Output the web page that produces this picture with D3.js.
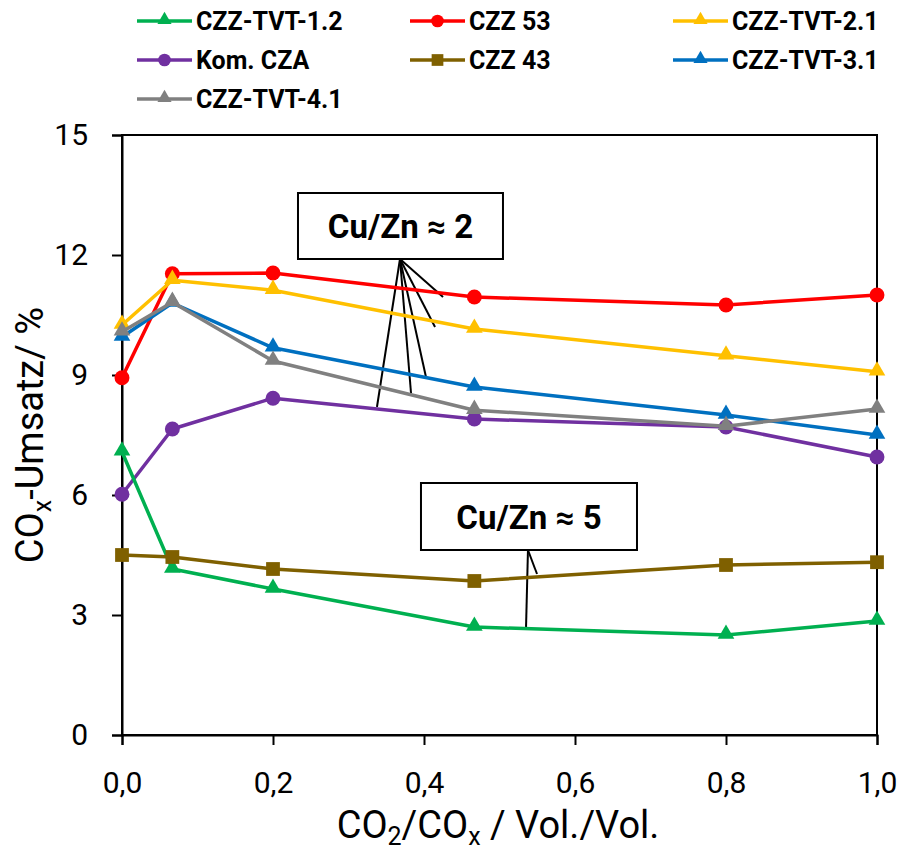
<!DOCTYPE html>
<html>
<head>
<meta charset="utf-8">
<script src="https://cdn.jsdelivr.net/npm/d3@7"></script>
<style>
  html, body { margin: 0; padding: 0; background: #fff; }
  svg { display: block; }
  text { font-family: "Roboto", "Liberation Sans", sans-serif; }
</style>
</head>
<body>
<svg id="chart" width="903" height="854"></svg>
<script>
// CO2 share of the COx feed (Vol./Vol.)
const xValues = [0, 0.0667, 0.2, 0.4667, 0.8, 1.0];

// COx conversion in % per catalyst
const czzTvt12 = [7.08, 4.15, 3.65, 2.70, 2.50, 2.85];
const czz53    = [8.93, 11.53, 11.55, 10.95, 10.75, 11.00];
const czzTvt21 = [10.25, 11.37, 11.12, 10.15, 9.48, 9.08];
const komCza   = [6.02, 7.65, 8.42, 7.90, 7.70, 6.95];
const czz43    = [4.50, 4.45, 4.15, 3.85, 4.25, 4.32];
const czzTvt31 = [9.95, 10.80, 9.68, 8.70, 8.00, 7.50];
const czzTvt41 = [10.08, 10.82, 9.35, 8.12, 7.72, 8.15];

const seriesNames   = ["CZZ-TVT-1.2", "CZZ 53", "CZZ-TVT-2.1", "Kom. CZA", "CZZ 43", "CZZ-TVT-3.1", "CZZ-TVT-4.1"];
const seriesValues  = [czzTvt12, czz53, czzTvt21, komCza, czz43, czzTvt31, czzTvt41];
const seriesColors  = ["#00B050", "#FF0000", "#FFC000", "#7030A0", "#7F6000", "#0070C0", "#808080"];
const seriesMarkers = ["triangle", "circle", "triangle", "circle", "square", "triangle", "triangle"];
// painting order (last on top)
const drawOrder = [3, 0, 1, 2, 4, 5, 6];

const xTicks = [0, 0.2, 0.4, 0.6, 0.8, 1.0];
const yTicks = [0, 3, 6, 9, 12, 15];

// callout boxes and their leader line targets, in data units
const calloutLabels = ["Cu/Zn ≈ 2", "Cu/Zn ≈ 5"];
const calloutBoxes = [
  { x0: 0.2331, x1: 0.5046, yTop: 13.55, yBottom: 11.90 },
  { x0: 0.3960, x1: 0.6821, yTop: 6.30,  yBottom: 4.625 }
];
const calloutAnchorsX = [0.3682, 0.5377];
const calloutTargets = [
  [[0.4252, 10.95], [0.4146, 10.20], [0.4026, 8.95], [0.3828, 8.55], [0.3377, 8.20]],
  [[0.5497, 4.025], [0.5351, 2.65]]
];

const svg = d3.select("#chart");
const margin = { left: 122, right: 26, top: 135, bottom: 119 };
const W = 903, H = 854;

const x = d3.scaleLinear().domain([0, 1]).range([margin.left, W - margin.right]);
const y = d3.scaleLinear().domain([0, 15]).range([H - margin.bottom, margin.top]);

// plot frame
svg.append("rect")
  .attr("x", x(0)).attr("y", y(15))
  .attr("width", x(1) - x(0)).attr("height", y(0) - y(15))
  .attr("fill", "none").attr("stroke", "#000").attr("stroke-width", 2);

// axes
const yAxis = d3.axisLeft(y).tickValues(yTicks).tickSize(10).tickPadding(24).tickFormat(d3.format("d"));
const xAxis = d3.axisBottom(x).tickValues(xTicks).tickSize(10).tickPadding(27)
  .tickFormat(d => d3.format(".1f")(d).replace(".", ","));

const gy = svg.append("g").attr("transform", `translate(${x(0)},0)`).call(yAxis);
const gx = svg.append("g").attr("transform", `translate(0,${y(0)})`).call(xAxis);
[gx, gy].forEach(g => {
  g.select(".domain").attr("stroke", "#000").attr("stroke-width", 2);
  g.selectAll(".tick line").attr("stroke", "#000").attr("stroke-width", 2);
  g.selectAll(".tick text").attr("fill", "#000").style("font-size", "30px")
    .style("font-family", "'Roboto', sans-serif");
});

// axis titles
svg.append("text")
  .attr("x", 498).attr("y", 838).attr("text-anchor", "middle")
  .style("font-size", "38px").attr("fill", "#000")
  .call(t => {
    t.append("tspan").text("CO");
    t.append("tspan").text("2").attr("dy", 7).style("font-size", "25px");
    t.append("tspan").text("/CO").attr("dy", -7);
    t.append("tspan").text("x").attr("dy", 7).style("font-size", "25px");
    t.append("tspan").text(" / Vol./Vol.").attr("dy", -7);
  });

svg.append("text")
  .attr("transform", "translate(43,435) rotate(-90)")
  .attr("text-anchor", "middle")
  .style("font-size", "38px").attr("fill", "#000")
  .call(t => {
    t.append("tspan").text("CO");
    t.append("tspan").text("x").attr("dy", 8).style("font-size", "25px");
    t.append("tspan").text("-Umsatz/ %").attr("dy", -8);
  });

// marker symbols
const symbolFor = { triangle: d3.symbolTriangle, circle: d3.symbolCircle, square: d3.symbolSquare };
const sizeFor = { triangle: 120, circle: 175, square: 190 };

function drawMarker(g, type, color, cx, cy, scale) {
  g.append("path")
    .attr("d", d3.symbol().type(symbolFor[type]).size(sizeFor[type] * scale * scale)())
    .attr("transform", `translate(${cx},${cy + (type === "triangle" ? -1 : 0)})`)
    .attr("fill", color);
}

// leader lines beneath the series
const gCallout = svg.append("g");
calloutBoxes.forEach((b, i) => {
  const ax = x(calloutAnchorsX[i]), ay = y(b.yBottom);
  calloutTargets[i].forEach(([tx, ty]) => {
    gCallout.append("line")
      .attr("x1", ax).attr("y1", ay).attr("x2", x(tx)).attr("y2", y(ty))
      .attr("stroke", "#000").attr("stroke-width", 2);
  });
});

// series
const line = d3.line().x((d, i) => x(xValues[i])).y(d => y(d));
const gSeries = svg.append("g");
drawOrder.forEach(si => {
  const g = gSeries.append("g");
  g.append("path")
    .attr("d", line(seriesValues[si]))
    .attr("fill", "none")
    .attr("stroke", seriesColors[si])
    .attr("stroke-width", 3.5)
    .attr("stroke-linejoin", "round");
  seriesValues[si].forEach((v, i) => drawMarker(g, seriesMarkers[si], seriesColors[si], x(xValues[i]), y(v), 1));
});

// callout boxes on top
calloutBoxes.forEach((b, i) => {
  svg.append("rect")
    .attr("x", x(b.x0)).attr("y", y(b.yTop))
    .attr("width", x(b.x1) - x(b.x0)).attr("height", y(b.yBottom) - y(b.yTop))
    .attr("fill", "#fff").attr("stroke", "#000").attr("stroke-width", 2);
  svg.append("text")
    .attr("x", (x(b.x0) + x(b.x1)) / 2).attr("y", (y(b.yTop) + y(b.yBottom)) / 2 + 12)
    .attr("text-anchor", "middle")
    .style("font-size", "33px").style("font-weight", "bold").attr("fill", "#000")
    .text(calloutLabels[i]);
});

// legend, three columns
const legendColX = [137, 410, 673];
const legendRowY = [21, 60, 99];
const gLegend = svg.append("g");
seriesNames.forEach((name, i) => {
  const cx = legendColX[i % 3], cy = legendRowY[Math.floor(i / 3)];
  const g = gLegend.append("g");
  g.append("line").attr("x1", cx).attr("x2", cx + 55).attr("y1", cy).attr("y2", cy)
    .attr("stroke", seriesColors[i]).attr("stroke-width", 3.5);
  drawMarker(g, seriesMarkers[i], seriesColors[i], cx + 27.5, cy, 0.85);
  g.append("text").attr("x", cx + 59).attr("y", cy + 9)
    .style("font-size", "25px").style("font-weight", "bold").attr("fill", "#000")
    .text(name);
});
</script>
</body>
</html>
